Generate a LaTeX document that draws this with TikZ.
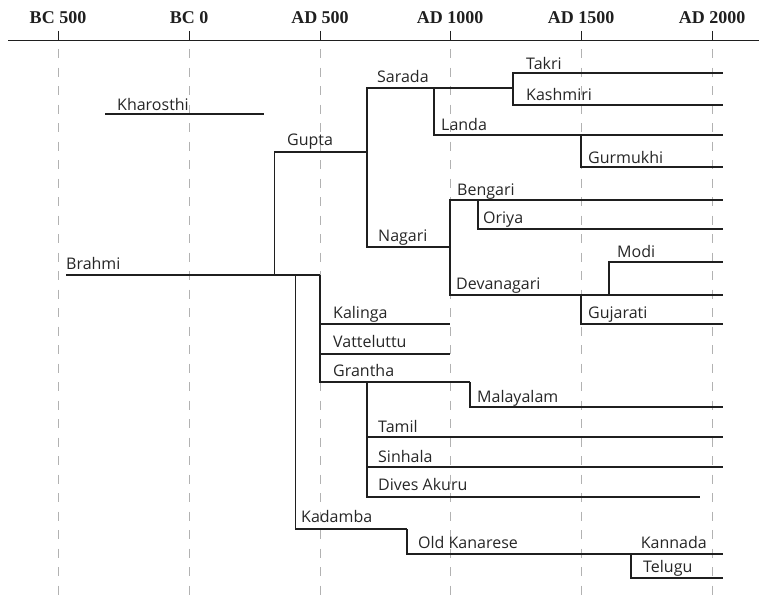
\documentclass[tikz,border=0pt]{standalone}
\usepackage{fontspec}
\setsansfont{Open Sans}
\newfontfamily\erafont{Liberation Serif}
\usetikzlibrary{positioning}

\begin{document}
\begin{tikzpicture}[x=1pt, y=-1pt,
  era/.style={font=\erafont\bfseries\fontsize{18}{21}\selectfont, text=black!88, anchor=base, inner sep=0pt},
  script/.style={font=\sffamily\fontsize{16}{19}\selectfont, text=black!85, anchor=base west, inner sep=0pt},
  branch/.style={line width=1.6pt, black!88},
  grid/.style={gray!60, line width=1pt, dash pattern=on 9pt off 9.5pt},
  axis/.style={line width=1pt, black!88}
]
\useasboundingbox (0,0) rectangle (759,602);

% time axis with dashed era lines
\coordinate (axis-l) at (8,41);
\coordinate (axis-r) at (759,41);
\foreach \x/\lab [count=\i] in {58/BC 500, 189/BC 0, 320/AD 500, 450/AD 1000, 581/AD 1500, 712/AD 2000} {
  \coordinate (grid-top\i) at (\x,49);
  \coordinate (grid-bot\i) at (\x,602);
  \draw[grid] (grid-top\i) -- (grid-bot\i);
  \coordinate (tick-top\i) at (\x,31);
  \coordinate (tick-bot\i) at (\x,41);
  \draw[axis] (tick-top\i) -- (tick-bot\i);
  \node[era] (era\i) at (\x,24) {\lab};
}
\draw[axis] (axis-l) -- (axis-r);

% line ends and forks
\coordinate (kharosthi-s) at (105,114);
\coordinate (kharosthi-e) at (264,114);
\coordinate (brahmi-s) at (66,275);
\coordinate (brahmi-e) at (320,275);
\coordinate (gupta-f) at (274.5,275);
\coordinate (gupta-e) at (367,152);
\coordinate (sarada-e) at (513,88);
\coordinate (takri-e) at (723,73);
\coordinate (kashmiri-e) at (723,105);
\coordinate (landa-f) at (434,88);
\coordinate (landa-e) at (723,135);
\coordinate (gurmukhi-f) at (581,135);
\coordinate (gurmukhi-e) at (723,167);
\coordinate (nagari-e) at (450,247);
\coordinate (bengari-e) at (723,200);
\coordinate (oriya-f) at (478,200);
\coordinate (oriya-e) at (723,229);
\coordinate (devanagari-e) at (723,295);
\coordinate (modi-f) at (609,295);
\coordinate (modi-e) at (723,262);
\coordinate (gujarati-f) at (581,295);
\coordinate (gujarati-e) at (723,324);
\coordinate (kalinga-e) at (450,324);
\coordinate (vatteluttu-e) at (450,354);
\coordinate (grantha-e) at (470,382);
\coordinate (malayalam-e) at (723,407);
\coordinate (tamil-f) at (367,382);
\coordinate (tamil-e) at (723,437);
\coordinate (sinhala-e) at (723,467);
\coordinate (akuru-e) at (700,497);
\coordinate (kadamba-f) at (295.5,275);
\coordinate (kadamba-e) at (407,529);
\coordinate (kanarese-e) at (723,554);
\coordinate (telugu-f) at (631,554);
\coordinate (telugu-e) at (723,578);

% branches
\draw[branch] (kharosthi-s) -- (kharosthi-e);
\draw[branch] (brahmi-s) -- (brahmi-e);
\draw[branch] (gupta-f) |- (gupta-e);
\draw[branch] (gupta-e) |- (sarada-e);
\draw[branch] (sarada-e) |- (takri-e);
\draw[branch] (sarada-e) |- (kashmiri-e);
\draw[branch] (landa-f) |- (landa-e);
\draw[branch] (gurmukhi-f) |- (gurmukhi-e);
\draw[branch] (gupta-e) |- (nagari-e);
\draw[branch] (nagari-e) |- (bengari-e);
\draw[branch] (oriya-f) |- (oriya-e);
\draw[branch] (nagari-e) |- (devanagari-e);
\draw[branch] (modi-f) |- (modi-e);
\draw[branch] (gujarati-f) |- (gujarati-e);
\draw[branch] (brahmi-e) |- (kalinga-e);
\draw[branch] (brahmi-e) |- (vatteluttu-e);
\draw[branch] (brahmi-e) |- (grantha-e);
\draw[branch] (grantha-e) |- (malayalam-e);
\draw[branch] (tamil-f) |- (tamil-e);
\draw[branch] (tamil-f) |- (sinhala-e);
\draw[branch] (tamil-f) |- (akuru-e);
\draw[branch] (kadamba-f) |- (kadamba-e);
\draw[branch] (kadamba-e) |- (kanarese-e);
\draw[branch] (telugu-f) |- (telugu-e);

% script names
\node[script] (kharosthi) at (117,110) {Kharosthi};
\node[script] (brahmi) at (66,269) {Brahmi};
\node[script] (gupta) at (287,145) {Gupta};
\node[script] (sarada) at (377,82) {Sarada};
\node[script] (takri) at (526,69) {Takri};
\node[script] (kashmiri) at (526,100) {Kashmiri};
\node[script] (landa) at (441,130) {Landa};
\node[script] (gurmukhi) at (588,163) {Gurmukhi};
\node[script] (bengari) at (457,195) {Bengari};
\node[script] (oriya) at (483,223) {Oriya};
\node[script] (nagari) at (378,241) {Nagari};
\node[script] (modi) at (617,257) {Modi};
\node[script] (devanagari) at (456,289) {Devanagari};
\node[script] (gujarati) at (588,318) {Gujarati};
\node[script] (kalinga) at (333,318) {Kalinga};
\node[script] (vatteluttu) at (333,347) {Vatteluttu};
\node[script] (grantha) at (333,376) {Grantha};
\node[script] (malayalam) at (477,402) {Malayalam};
\node[script] (tamil) at (378,432) {Tamil};
\node[script] (sinhala) at (378,462) {Sinhala};
\node[script] (akuru) at (378,490) {Dives Akuru};
\node[script] (kadamba) at (301,522) {Kadamba};
\node[script] (kanarese) at (418,548) {Old Kanarese};
\node[script, anchor=base east] (kannada) at (707,548) {Kannada};
\node[script] (telugu) at (643,572) {Telugu};
\end{tikzpicture}
\end{document}
